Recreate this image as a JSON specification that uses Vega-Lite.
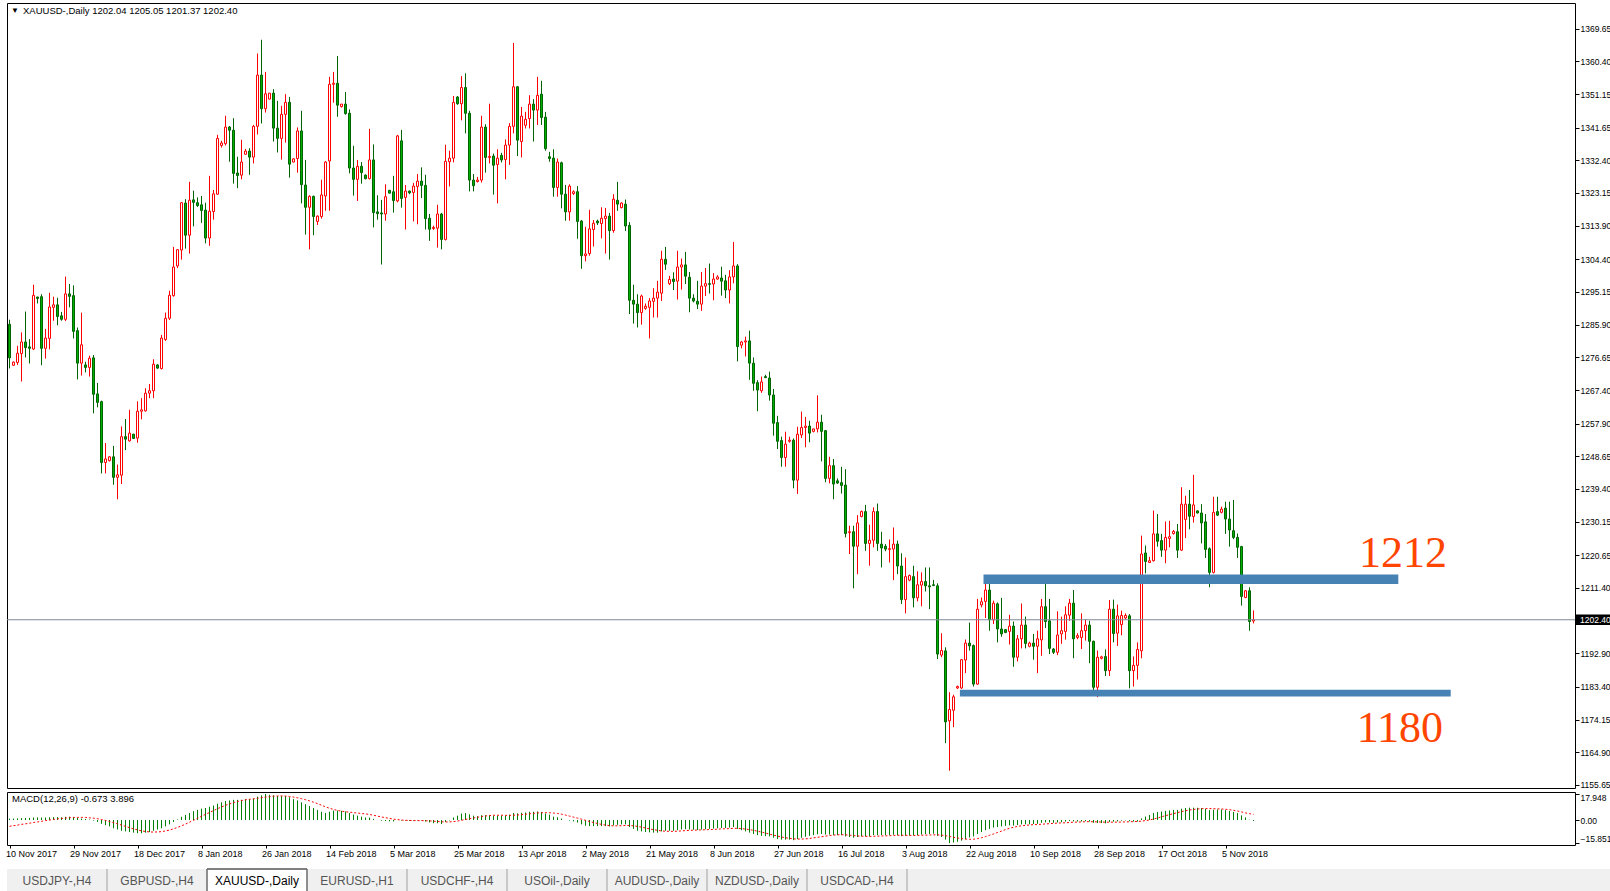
{
"$schema":"https://vega.github.io/schema/vega-lite/v6.json",
"background":"white",
"padding":{"left":5,"top":2,"right":0,"bottom":0},
"bounds":"full",
"spacing":9,
"config":{"view":{"stroke":"#000000","strokeWidth":1},"font":"Liberation Sans","text":{"font":"Liberation Sans"},"axis":{"labelFont":"Liberation Sans","labelOverlap":false},"scale":{"continuousPadding":0}},
"datasets":{
"ohlc":[
{"i":0,"o":1286.0,"h":1287.3,"l":1273.5,"c":1276.5},
{"i":1,"o":1274.4,"h":1275.5,"l":1274.2,"c":1275.3},
{"i":2,"o":1275.2,"h":1279.9,"l":1274.5,"c":1277.8},
{"i":3,"o":1277.7,"h":1283.7,"l":1269.8,"c":1281.0},
{"i":4,"o":1281.0,"h":1289.6,"l":1276.6,"c":1279.4},
{"i":5,"o":1279.6,"h":1281.8,"l":1274.9,"c":1279.2},
{"i":6,"o":1279.0,"h":1297.2,"l":1278.7,"c":1294.2},
{"i":7,"o":1293.7,"h":1293.8,"l":1291.9,"c":1293.3},
{"i":8,"o":1293.8,"h":1294.5,"l":1274.4,"c":1279.2},
{"i":9,"o":1279.2,"h":1284.7,"l":1276.3,"c":1282.1},
{"i":10,"o":1282.0,"h":1294.9,"l":1278.9,"c":1290.9},
{"i":11,"o":1290.8,"h":1293.8,"l":1287.0,"c":1291.5},
{"i":12,"o":1291.5,"h":1293.5,"l":1285.7,"c":1288.2},
{"i":13,"o":1288.4,"h":1289.5,"l":1287.0,"c":1287.4},
{"i":14,"o":1287.4,"h":1299.5,"l":1286.9,"c":1294.6},
{"i":15,"o":1294.6,"h":1297.4,"l":1290.8,"c":1293.9},
{"i":16,"o":1294.1,"h":1297.0,"l":1282.0,"c":1284.0},
{"i":17,"o":1284.2,"h":1285.1,"l":1270.4,"c":1275.0},
{"i":18,"o":1275.0,"h":1289.3,"l":1271.5,"c":1280.2},
{"i":19,"o":1274.5,"h":1275.4,"l":1272.4,"c":1273.8},
{"i":20,"o":1273.8,"h":1277.1,"l":1271.2,"c":1276.4},
{"i":21,"o":1276.5,"h":1277.3,"l":1260.8,"c":1266.2},
{"i":22,"o":1266.3,"h":1269.4,"l":1262.5,"c":1263.9},
{"i":23,"o":1264.1,"h":1264.4,"l":1243.8,"c":1246.9},
{"i":24,"o":1246.9,"h":1252.4,"l":1243.8,"c":1247.9},
{"i":25,"o":1247.4,"h":1248.7,"l":1247.2,"c":1248.5},
{"i":26,"o":1248.5,"h":1251.6,"l":1240.6,"c":1242.7},
{"i":27,"o":1242.7,"h":1246.3,"l":1236.5,"c":1243.4},
{"i":28,"o":1243.3,"h":1257.1,"l":1240.8,"c":1254.2},
{"i":29,"o":1254.2,"h":1259.2,"l":1250.4,"c":1253.5},
{"i":30,"o":1253.0,"h":1261.8,"l":1252.8,"c":1255.2},
{"i":31,"o":1254.9,"h":1255.0,"l":1253.6,"c":1253.7},
{"i":32,"o":1253.8,"h":1264.2,"l":1252.5,"c":1261.4},
{"i":33,"o":1261.4,"h":1265.1,"l":1259.1,"c":1261.8},
{"i":34,"o":1261.5,"h":1267.9,"l":1261.3,"c":1266.5},
{"i":35,"o":1266.5,"h":1269.1,"l":1265.1,"c":1267.2},
{"i":36,"o":1267.2,"h":1276.1,"l":1265.1,"c":1274.7},
{"i":37,"o":1274.5,"h":1274.7,"l":1273.4,"c":1273.6},
{"i":38,"o":1273.5,"h":1283.0,"l":1273.2,"c":1282.1},
{"i":39,"o":1281.7,"h":1289.3,"l":1281.3,"c":1287.7},
{"i":40,"o":1287.7,"h":1295.5,"l":1287.2,"c":1294.2},
{"i":41,"o":1294.1,"h":1307.9,"l":1293.8,"c":1302.2},
{"i":42,"o":1302.5,"h":1307.3,"l":1301.9,"c":1307.1},
{"i":43,"o":1307.0,"h":1320.6,"l":1304.3,"c":1320.4},
{"i":44,"o":1320.3,"h":1321.4,"l":1307.4,"c":1311.2},
{"i":45,"o":1311.2,"h":1326.3,"l":1306.0,"c":1321.1},
{"i":46,"o":1321.2,"h":1323.8,"l":1313.7,"c":1320.5},
{"i":47,"o":1320.4,"h":1321.9,"l":1319.2,"c":1319.6},
{"i":48,"o":1319.8,"h":1322.3,"l":1314.7,"c":1318.2},
{"i":49,"o":1318.3,"h":1320.4,"l":1308.9,"c":1310.4},
{"i":50,"o":1310.4,"h":1328.0,"l":1308.2,"c":1318.0},
{"i":51,"o":1317.9,"h":1324.0,"l":1315.6,"c":1322.9},
{"i":52,"o":1322.8,"h":1339.6,"l":1322.7,"c":1338.6},
{"i":53,"o":1336.6,"h":1337.9,"l":1336.0,"c":1337.3},
{"i":54,"o":1337.1,"h":1345.0,"l":1336.6,"c":1341.8},
{"i":55,"o":1341.8,"h":1342.1,"l":1332.0,"c":1340.9},
{"i":56,"o":1340.9,"h":1344.3,"l":1325.8,"c":1328.7},
{"i":57,"o":1328.8,"h":1333.4,"l":1324.5,"c":1328.1},
{"i":58,"o":1328.2,"h":1338.2,"l":1327.0,"c":1331.9},
{"i":59,"o":1334.1,"h":1335.6,"l":1334.1,"c":1335.0},
{"i":60,"o":1335.0,"h":1335.8,"l":1328.3,"c":1333.3},
{"i":61,"o":1333.3,"h":1342.4,"l":1331.5,"c":1342.0},
{"i":62,"o":1342.0,"h":1362.6,"l":1339.7,"c":1356.5},
{"i":63,"o":1356.5,"h":1366.5,"l":1342.8,"c":1347.0},
{"i":64,"o":1347.0,"h":1357.4,"l":1345.9,"c":1351.2},
{"i":65,"o":1349.7,"h":1351.4,"l":1349.7,"c":1351.4},
{"i":66,"o":1351.4,"h":1352.5,"l":1337.7,"c":1341.5},
{"i":67,"o":1341.5,"h":1349.2,"l":1334.6,"c":1338.6},
{"i":68,"o":1338.6,"h":1347.8,"l":1332.6,"c":1345.4},
{"i":69,"o":1345.4,"h":1351.1,"l":1337.4,"c":1348.8},
{"i":70,"o":1348.8,"h":1350.3,"l":1327.5,"c":1331.3},
{"i":71,"o":1331.9,"h":1333.0,"l":1331.8,"c":1332.8},
{"i":72,"o":1332.9,"h":1341.7,"l":1328.9,"c":1340.7},
{"i":73,"o":1340.7,"h":1346.4,"l":1320.2,"c":1325.5},
{"i":74,"o":1325.4,"h":1332.5,"l":1311.4,"c":1319.1},
{"i":75,"o":1319.1,"h":1322.5,"l":1307.2,"c":1322.2},
{"i":76,"o":1322.2,"h":1322.4,"l":1311.2,"c":1316.5},
{"i":77,"o":1315.1,"h":1316.8,"l":1314.1,"c":1316.6},
{"i":78,"o":1316.5,"h":1326.9,"l":1315.9,"c":1322.6},
{"i":79,"o":1322.3,"h":1332.2,"l":1318.1,"c":1331.9},
{"i":80,"o":1332.2,"h":1356.0,"l":1318.1,"c":1353.9},
{"i":81,"o":1353.9,"h":1357.4,"l":1348.7,"c":1354.2},
{"i":82,"o":1354.2,"h":1361.9,"l":1344.7,"c":1348.0},
{"i":83,"o":1347.6,"h":1348.3,"l":1347.3,"c":1348.3},
{"i":84,"o":1348.3,"h":1351.7,"l":1345.3,"c":1345.6},
{"i":85,"o":1345.7,"h":1346.8,"l":1328.7,"c":1330.2},
{"i":86,"o":1330.2,"h":1336.5,"l":1322.4,"c":1327.0},
{"i":87,"o":1327.0,"h":1332.5,"l":1320.9,"c":1330.7},
{"i":88,"o":1330.7,"h":1331.9,"l":1325.8,"c":1328.9},
{"i":89,"o":1328.2,"h":1328.4,"l":1327.0,"c":1327.2},
{"i":90,"o":1327.2,"h":1341.3,"l":1327.0,"c":1332.5},
{"i":91,"o":1332.5,"h":1336.9,"l":1313.4,"c":1317.6},
{"i":92,"o":1317.8,"h":1322.5,"l":1315.6,"c":1317.3},
{"i":93,"o":1317.5,"h":1321.2,"l":1302.9,"c":1317.2},
{"i":94,"o":1317.2,"h":1325.6,"l":1315.3,"c":1322.1},
{"i":95,"o":1323.9,"h":1324.0,"l":1323.1,"c":1323.1},
{"i":96,"o":1323.5,"h":1328.0,"l":1317.6,"c":1321.0},
{"i":97,"o":1320.9,"h":1339.6,"l":1320.5,"c":1339.3},
{"i":98,"o":1337.9,"h":1341.0,"l":1319.0,"c":1321.6},
{"i":99,"o":1321.9,"h":1325.4,"l":1312.8,"c":1323.7},
{"i":100,"o":1323.7,"h":1323.8,"l":1322.8,"c":1323.2},
{"i":101,"o":1323.3,"h":1326.0,"l":1315.1,"c":1325.1},
{"i":102,"o":1325.0,"h":1328.5,"l":1314.3,"c":1326.5},
{"i":103,"o":1326.5,"h":1330.4,"l":1321.7,"c":1325.3},
{"i":104,"o":1325.3,"h":1328.3,"l":1312.8,"c":1315.9},
{"i":105,"o":1316.0,"h":1317.2,"l":1309.6,"c":1312.9},
{"i":106,"o":1313.1,"h":1313.9,"l":1312.7,"c":1313.4},
{"i":107,"o":1313.2,"h":1319.8,"l":1307.7,"c":1317.2},
{"i":108,"o":1317.2,"h":1317.5,"l":1307.2,"c":1310.0},
{"i":109,"o":1310.0,"h":1336.8,"l":1309.7,"c":1332.1},
{"i":110,"o":1332.0,"h":1335.1,"l":1325.0,"c":1333.0},
{"i":111,"o":1333.0,"h":1350.6,"l":1331.8,"c":1348.8},
{"i":112,"o":1350.3,"h":1350.6,"l":1348.1,"c":1348.4},
{"i":113,"o":1348.4,"h":1356.2,"l":1343.7,"c":1353.0},
{"i":114,"o":1353.0,"h":1357.0,"l":1340.0,"c":1345.7},
{"i":115,"o":1345.7,"h":1346.4,"l":1323.6,"c":1326.8},
{"i":116,"o":1326.8,"h":1328.5,"l":1323.6,"c":1325.2},
{"i":117,"o":1326.4,"h":1327.7,"l":1326.1,"c":1326.8},
{"i":118,"o":1326.8,"h":1345.0,"l":1326.1,"c":1341.8},
{"i":119,"o":1341.8,"h":1342.6,"l":1328.9,"c":1333.2},
{"i":120,"o":1333.2,"h":1348.4,"l":1331.5,"c":1333.5},
{"i":121,"o":1333.6,"h":1334.3,"l":1322.7,"c":1331.0},
{"i":122,"o":1331.2,"h":1335.5,"l":1320.2,"c":1333.0},
{"i":123,"o":1333.8,"h":1334.5,"l":1331.8,"c":1332.5},
{"i":124,"o":1332.6,"h":1338.3,"l":1327.0,"c":1336.7},
{"i":125,"o":1336.7,"h":1342.9,"l":1331.1,"c":1342.0},
{"i":126,"o":1342.0,"h":1365.6,"l":1340.0,"c":1353.2},
{"i":127,"o":1353.2,"h":1353.4,"l":1333.6,"c":1338.1},
{"i":128,"o":1337.7,"h":1347.5,"l":1333.2,"c":1344.9},
{"i":129,"o":1342.3,"h":1346.1,"l":1341.4,"c":1344.0},
{"i":130,"o":1344.2,"h":1350.8,"l":1341.4,"c":1348.3},
{"i":131,"o":1348.3,"h":1349.7,"l":1337.7,"c":1346.6},
{"i":132,"o":1346.6,"h":1356.0,"l":1342.4,"c":1350.8},
{"i":133,"o":1351.1,"h":1354.9,"l":1342.4,"c":1344.5},
{"i":134,"o":1344.6,"h":1346.1,"l":1335.1,"c":1335.7},
{"i":135,"o":1333.4,"h":1334.8,"l":1332.0,"c":1332.9},
{"i":136,"o":1333.0,"h":1335.5,"l":1322.1,"c":1324.7},
{"i":137,"o":1324.7,"h":1332.9,"l":1322.1,"c":1331.9},
{"i":138,"o":1331.7,"h":1332.0,"l":1318.8,"c":1322.8},
{"i":139,"o":1322.8,"h":1325.4,"l":1315.3,"c":1317.8},
{"i":140,"o":1317.8,"h":1325.6,"l":1315.3,"c":1325.1},
{"i":141,"o":1323.0,"h":1323.9,"l":1322.6,"c":1323.5},
{"i":142,"o":1323.5,"h":1325.1,"l":1310.2,"c":1315.1},
{"i":143,"o":1315.2,"h":1315.5,"l":1301.7,"c":1305.4},
{"i":144,"o":1305.4,"h":1313.6,"l":1303.8,"c":1305.9},
{"i":145,"o":1306.0,"h":1318.4,"l":1305.4,"c":1313.0},
{"i":146,"o":1312.8,"h":1315.5,"l":1308.0,"c":1314.6},
{"i":147,"o":1315.2,"h":1315.6,"l":1314.1,"c":1314.7},
{"i":148,"o":1314.5,"h":1319.1,"l":1310.3,"c":1316.0},
{"i":149,"o":1315.9,"h":1318.9,"l":1306.0,"c":1316.6},
{"i":150,"o":1316.6,"h":1317.5,"l":1304.3,"c":1312.5},
{"i":151,"o":1312.5,"h":1322.8,"l":1311.9,"c":1321.4},
{"i":152,"o":1321.1,"h":1326.3,"l":1318.1,"c":1320.0},
{"i":153,"o":1319.0,"h":1320.5,"l":1318.8,"c":1320.3},
{"i":154,"o":1320.0,"h":1321.3,"l":1312.4,"c":1313.8},
{"i":155,"o":1314.0,"h":1314.9,"l":1288.9,"c":1292.8},
{"i":156,"o":1292.8,"h":1297.2,"l":1286.2,"c":1291.7},
{"i":157,"o":1291.7,"h":1294.5,"l":1285.1,"c":1289.3},
{"i":158,"o":1289.3,"h":1294.4,"l":1285.9,"c":1294.0},
{"i":159,"o":1290.5,"h":1291.9,"l":1290.1,"c":1291.1},
{"i":160,"o":1290.8,"h":1293.4,"l":1282.0,"c":1292.6},
{"i":161,"o":1292.5,"h":1296.2,"l":1287.9,"c":1293.4},
{"i":162,"o":1293.4,"h":1298.3,"l":1287.9,"c":1295.1},
{"i":163,"o":1294.8,"h":1306.8,"l":1292.6,"c":1304.4},
{"i":164,"o":1304.4,"h":1307.9,"l":1301.4,"c":1303.0},
{"i":165,"o":1297.5,"h":1299.7,"l":1297.1,"c":1298.7},
{"i":166,"o":1298.8,"h":1300.7,"l":1295.7,"c":1298.1},
{"i":167,"o":1298.2,"h":1306.8,"l":1293.0,"c":1302.2},
{"i":168,"o":1302.2,"h":1304.6,"l":1295.8,"c":1302.8},
{"i":169,"o":1302.8,"h":1306.5,"l":1297.4,"c":1299.6},
{"i":170,"o":1299.3,"h":1300.8,"l":1289.4,"c":1293.4},
{"i":171,"o":1293.4,"h":1294.5,"l":1292.2,"c":1292.6},
{"i":172,"o":1292.5,"h":1298.3,"l":1290.3,"c":1291.7},
{"i":173,"o":1291.7,"h":1300.8,"l":1289.8,"c":1296.8},
{"i":174,"o":1296.8,"h":1301.9,"l":1294.0,"c":1297.5},
{"i":175,"o":1297.5,"h":1303.2,"l":1294.7,"c":1297.3},
{"i":176,"o":1297.4,"h":1300.5,"l":1292.8,"c":1298.8},
{"i":177,"o":1298.8,"h":1299.9,"l":1298.6,"c":1299.4},
{"i":178,"o":1299.1,"h":1302.3,"l":1294.1,"c":1298.2},
{"i":179,"o":1298.3,"h":1300.0,"l":1293.4,"c":1295.7},
{"i":180,"o":1295.7,"h":1301.3,"l":1291.9,"c":1299.4},
{"i":181,"o":1299.4,"h":1309.3,"l":1297.6,"c":1302.5},
{"i":182,"o":1302.5,"h":1303.0,"l":1275.5,"c":1279.7},
{"i":183,"o":1280.1,"h":1281.3,"l":1279.2,"c":1281.0},
{"i":184,"o":1281.0,"h":1282.5,"l":1276.9,"c":1281.3},
{"i":185,"o":1281.3,"h":1284.2,"l":1270.3,"c":1275.0},
{"i":186,"o":1275.0,"h":1276.6,"l":1267.2,"c":1269.3},
{"i":187,"o":1269.5,"h":1270.2,"l":1261.4,"c":1267.4},
{"i":188,"o":1267.2,"h":1271.2,"l":1266.6,"c":1269.7},
{"i":189,"o":1271.2,"h":1271.7,"l":1270.9,"c":1270.9},
{"i":190,"o":1270.8,"h":1272.6,"l":1264.4,"c":1266.0},
{"i":191,"o":1266.0,"h":1267.7,"l":1254.5,"c":1258.0},
{"i":192,"o":1258.2,"h":1260.1,"l":1250.7,"c":1252.9},
{"i":193,"o":1253.1,"h":1254.2,"l":1245.7,"c":1248.3},
{"i":194,"o":1248.3,"h":1255.6,"l":1245.7,"c":1252.1},
{"i":195,"o":1252.9,"h":1254.2,"l":1252.5,"c":1253.2},
{"i":196,"o":1253.2,"h":1253.7,"l":1239.6,"c":1241.9},
{"i":197,"o":1241.9,"h":1257.0,"l":1238.0,"c":1254.9},
{"i":198,"o":1254.7,"h":1261.3,"l":1253.8,"c":1256.8},
{"i":199,"o":1256.8,"h":1259.8,"l":1251.2,"c":1257.2},
{"i":200,"o":1257.2,"h":1258.7,"l":1252.6,"c":1255.2},
{"i":201,"o":1255.7,"h":1256.4,"l":1255.4,"c":1256.4},
{"i":202,"o":1256.4,"h":1265.9,"l":1255.4,"c":1258.3},
{"i":203,"o":1258.3,"h":1260.4,"l":1247.2,"c":1255.7},
{"i":204,"o":1255.9,"h":1256.1,"l":1241.3,"c":1242.4},
{"i":205,"o":1242.4,"h":1248.5,"l":1241.0,"c":1246.0},
{"i":206,"o":1246.0,"h":1247.9,"l":1236.5,"c":1240.8},
{"i":207,"o":1241.7,"h":1242.4,"l":1240.8,"c":1241.1},
{"i":208,"o":1241.2,"h":1245.7,"l":1238.1,"c":1240.4},
{"i":209,"o":1240.5,"h":1245.0,"l":1225.7,"c":1226.8},
{"i":210,"o":1227.1,"h":1229.0,"l":1221.0,"c":1227.3},
{"i":211,"o":1227.3,"h":1229.0,"l":1211.3,"c":1223.2},
{"i":212,"o":1223.2,"h":1232.0,"l":1215.3,"c":1229.8},
{"i":213,"o":1231.6,"h":1233.3,"l":1231.4,"c":1233.0},
{"i":214,"o":1233.0,"h":1234.9,"l":1221.9,"c":1224.0},
{"i":215,"o":1224.0,"h":1229.3,"l":1217.7,"c":1224.9},
{"i":216,"o":1224.9,"h":1234.2,"l":1222.9,"c":1233.0},
{"i":217,"o":1233.0,"h":1235.3,"l":1221.9,"c":1224.0},
{"i":218,"o":1223.8,"h":1227.3,"l":1217.2,"c":1222.7},
{"i":219,"o":1223.2,"h":1223.8,"l":1221.8,"c":1222.4},
{"i":220,"o":1222.3,"h":1225.1,"l":1218.6,"c":1222.5},
{"i":221,"o":1222.4,"h":1228.5,"l":1213.6,"c":1223.8},
{"i":222,"o":1223.8,"h":1224.8,"l":1215.3,"c":1217.6},
{"i":223,"o":1217.6,"h":1221.2,"l":1206.9,"c":1208.1},
{"i":224,"o":1208.1,"h":1220.0,"l":1204.2,"c":1214.6},
{"i":225,"o":1213.6,"h":1215.2,"l":1213.3,"c":1214.9},
{"i":226,"o":1214.6,"h":1217.7,"l":1205.9,"c":1208.6},
{"i":227,"o":1208.6,"h":1216.1,"l":1207.6,"c":1212.3},
{"i":228,"o":1212.2,"h":1215.8,"l":1206.2,"c":1213.2},
{"i":229,"o":1213.2,"h":1217.2,"l":1210.4,"c":1212.0},
{"i":230,"o":1212.0,"h":1217.2,"l":1205.4,"c":1211.7},
{"i":231,"o":1212.3,"h":1213.7,"l":1211.9,"c":1212.1},
{"i":232,"o":1212.0,"h":1212.7,"l":1191.3,"c":1192.7},
{"i":233,"o":1192.4,"h":1198.6,"l":1191.8,"c":1193.7},
{"i":234,"o":1193.6,"h":1194.6,"l":1167.5,"c":1173.5},
{"i":235,"o":1173.8,"h":1181.9,"l":1159.7,"c":1177.0},
{"i":236,"o":1176.8,"h":1181.2,"l":1172.0,"c":1180.6},
{"i":237,"o":1183.1,"h":1183.8,"l":1182.8,"c":1183.5},
{"i":238,"o":1183.1,"h":1191.3,"l":1182.8,"c":1191.1},
{"i":239,"o":1191.0,"h":1196.8,"l":1187.3,"c":1195.8},
{"i":240,"o":1195.8,"h":1201.6,"l":1193.7,"c":1195.0},
{"i":241,"o":1195.1,"h":1195.4,"l":1183.5,"c":1184.2},
{"i":242,"o":1184.2,"h":1208.3,"l":1184.0,"c":1205.4},
{"i":243,"o":1206.6,"h":1208.7,"l":1205.9,"c":1207.5},
{"i":244,"o":1207.6,"h":1214.4,"l":1202.9,"c":1210.8},
{"i":245,"o":1210.8,"h":1214.4,"l":1199.3,"c":1202.4},
{"i":246,"o":1202.4,"h":1207.8,"l":1201.2,"c":1207.1},
{"i":247,"o":1206.9,"h":1207.3,"l":1196.0,"c":1199.8},
{"i":248,"o":1199.8,"h":1208.6,"l":1197.6,"c":1198.4},
{"i":249,"o":1199.6,"h":1199.8,"l":1198.6,"c":1198.8},
{"i":250,"o":1199.1,"h":1203.8,"l":1195.4,"c":1200.6},
{"i":251,"o":1200.6,"h":1201.9,"l":1189.1,"c":1191.8},
{"i":252,"o":1191.8,"h":1198.1,"l":1190.6,"c":1197.0},
{"i":253,"o":1197.0,"h":1207.0,"l":1194.3,"c":1200.9},
{"i":254,"o":1200.9,"h":1203.3,"l":1194.3,"c":1195.7},
{"i":255,"o":1194.9,"h":1196.2,"l":1194.6,"c":1195.8},
{"i":256,"o":1195.8,"h":1198.4,"l":1191.1,"c":1194.9},
{"i":257,"o":1194.9,"h":1199.3,"l":1187.3,"c":1197.0},
{"i":258,"o":1196.7,"h":1208.3,"l":1192.2,"c":1206.1},
{"i":259,"o":1206.1,"h":1212.5,"l":1200.1,"c":1201.9},
{"i":260,"o":1202.1,"h":1208.3,"l":1192.7,"c":1194.3},
{"i":261,"o":1194.1,"h":1194.4,"l":1192.7,"c":1193.2},
{"i":262,"o":1193.2,"h":1204.8,"l":1192.4,"c":1198.1},
{"i":263,"o":1198.4,"h":1203.3,"l":1195.6,"c":1199.3},
{"i":264,"o":1199.1,"h":1206.2,"l":1196.8,"c":1203.8},
{"i":265,"o":1203.7,"h":1208.3,"l":1202.1,"c":1207.1},
{"i":266,"o":1207.1,"h":1210.8,"l":1191.5,"c":1197.0},
{"i":267,"o":1197.4,"h":1198.6,"l":1196.9,"c":1197.9},
{"i":268,"o":1197.4,"h":1204.2,"l":1194.1,"c":1199.3},
{"i":269,"o":1199.3,"h":1202.5,"l":1196.5,"c":1200.9},
{"i":270,"o":1200.9,"h":1202.1,"l":1190.1,"c":1196.3},
{"i":271,"o":1196.3,"h":1196.5,"l":1181.6,"c":1183.3},
{"i":272,"o":1183.3,"h":1193.7,"l":1180.5,"c":1191.8},
{"i":273,"o":1191.5,"h":1192.2,"l":1191.2,"c":1191.9},
{"i":274,"o":1192.0,"h":1194.0,"l":1186.5,"c":1188.0},
{"i":275,"o":1188.0,"h":1208.0,"l":1186.5,"c":1205.4},
{"i":276,"o":1205.4,"h":1208.1,"l":1196.0,"c":1198.5},
{"i":277,"o":1198.6,"h":1206.7,"l":1195.0,"c":1203.5},
{"i":278,"o":1201.0,"h":1205.0,"l":1198.0,"c":1203.6},
{"i":279,"o":1202.9,"h":1204.2,"l":1202.5,"c":1203.6},
{"i":280,"o":1203.5,"h":1204.0,"l":1183.0,"c":1188.0},
{"i":281,"o":1188.0,"h":1192.0,"l":1183.5,"c":1189.5},
{"i":282,"o":1189.5,"h":1196.0,"l":1185.5,"c":1194.0},
{"i":283,"o":1193.6,"h":1226.2,"l":1191.5,"c":1221.0},
{"i":284,"o":1221.3,"h":1223.4,"l":1215.5,"c":1218.9},
{"i":285,"o":1218.6,"h":1220.2,"l":1218.5,"c":1219.1},
{"i":286,"o":1219.1,"h":1233.3,"l":1218.9,"c":1226.7},
{"i":287,"o":1226.7,"h":1232.3,"l":1223.1,"c":1224.6},
{"i":288,"o":1224.8,"h":1226.7,"l":1220.2,"c":1222.1},
{"i":289,"o":1222.1,"h":1230.2,"l":1218.4,"c":1225.7},
{"i":290,"o":1225.4,"h":1230.4,"l":1222.9,"c":1225.9},
{"i":291,"o":1226.8,"h":1227.8,"l":1226.5,"c":1227.4},
{"i":292,"o":1227.3,"h":1229.5,"l":1219.9,"c":1222.1},
{"i":293,"o":1222.1,"h":1239.9,"l":1221.9,"c":1235.1},
{"i":294,"o":1230.8,"h":1237.5,"l":1225.5,"c":1235.1},
{"i":295,"o":1235.1,"h":1239.1,"l":1228.0,"c":1231.7},
{"i":296,"o":1231.6,"h":1243.4,"l":1229.9,"c":1234.9},
{"i":297,"o":1233.2,"h":1233.3,"l":1232.5,"c":1232.6},
{"i":298,"o":1232.6,"h":1235.1,"l":1224.0,"c":1229.8},
{"i":299,"o":1230.1,"h":1232.3,"l":1219.9,"c":1222.3},
{"i":300,"o":1222.5,"h":1222.9,"l":1211.6,"c":1215.8},
{"i":301,"o":1215.8,"h":1237.2,"l":1215.5,"c":1232.8},
{"i":302,"o":1233.0,"h":1237.2,"l":1231.8,"c":1232.0},
{"i":303,"o":1232.8,"h":1234.4,"l":1232.5,"c":1233.7},
{"i":304,"o":1234.0,"h":1235.8,"l":1226.7,"c":1230.9},
{"i":305,"o":1230.9,"h":1235.8,"l":1223.1,"c":1227.8},
{"i":306,"o":1227.6,"h":1236.3,"l":1225.2,"c":1225.7},
{"i":307,"o":1225.7,"h":1226.8,"l":1219.9,"c":1222.9},
{"i":308,"o":1223.1,"h":1223.3,"l":1206.4,"c":1209.0},
{"i":309,"o":1208.7,"h":1210.8,"l":1208.5,"c":1210.6},
{"i":310,"o":1210.6,"h":1211.6,"l":1199.3,"c":1201.9},
{"i":311,"o":1202.04,"h":1205.05,"l":1201.37,"c":1202.40}
],
"macd":[
{"i":0,"m":0.9,"s":-4.3},{"i":1,"m":1.0,"s":-3.9},{"i":2,"m":1.1,"s":-3.5},{"i":3,"m":1.3,"s":-3.0},{"i":4,"m":1.4,"s":-2.6},{"i":5,"m":1.5,"s":-2.2},{"i":6,"m":1.7,"s":-1.7},{"i":7,"m":1.8,"s":-1.3},{"i":8,"m":1.7,"s":-0.9},{"i":9,"m":1.7,"s":-0.4},
{"i":10,"m":1.9,"s":0.0},{"i":11,"m":2.0,"s":0.4},{"i":12,"m":2.0,"s":0.8},{"i":13,"m":1.9,"s":1.1},{"i":14,"m":2.2,"s":1.4},{"i":15,"m":2.3,"s":1.6},{"i":16,"m":2.0,"s":1.8},{"i":17,"m":1.4,"s":1.8},{"i":18,"m":1.0,"s":1.8},{"i":19,"m":0.7,"s":1.8},
{"i":20,"m":0.3,"s":1.53},{"i":21,"m":-0.4,"s":1.27},{"i":22,"m":-1.3,"s":0.91},{"i":23,"m":-2.6,"s":0.38},{"i":24,"m":-3.5,"s":-0.27},{"i":25,"m":-4.4,"s":-0.98},{"i":26,"m":-5.7,"s":-1.77},{"i":27,"m":-6.5,"s":-2.6},{"i":28,"m":-7.4,"s":-3.5},{"i":29,"m":-7.8,"s":-4.4},
{"i":30,"m":-8.3,"s":-5.28},{"i":31,"m":-8.7,"s":-6.1},{"i":32,"m":-9.1,"s":-6.82},{"i":33,"m":-9.1,"s":-7.44},{"i":34,"m":-8.7,"s":-7.92},{"i":35,"m":-8.3,"s":-8.21},{"i":36,"m":-7.4,"s":-8.31},{"i":37,"m":-6.5,"s":-8.21},{"i":38,"m":-5.7,"s":-7.98},{"i":39,"m":-4.4,"s":-7.54},
{"i":40,"m":-3.0,"s":-6.9},{"i":41,"m":-1.3,"s":-6.1},{"i":42,"m":0.4,"s":-5.1},{"i":43,"m":2.2,"s":-4.0},{"i":44,"m":3.5,"s":-2.8},{"i":45,"m":4.8,"s":-1.5},{"i":46,"m":6.1,"s":-0.2},{"i":47,"m":7.0,"s":1.2},{"i":48,"m":7.8,"s":2.6},{"i":49,"m":8.3,"s":3.9},
{"i":50,"m":9.1,"s":5.2},{"i":51,"m":10.0,"s":6.5},{"i":52,"m":11.3,"s":7.8},{"i":53,"m":12.2,"s":9.0},{"i":54,"m":13.1,"s":10.1},{"i":55,"m":13.5,"s":11.1},{"i":56,"m":13.9,"s":12.0},{"i":57,"m":13.9,"s":12.8},{"i":58,"m":13.9,"s":13.4},{"i":59,"m":14.4,"s":13.9},
{"i":60,"m":14.4,"s":14.3},{"i":61,"m":14.8,"s":14.6},{"i":62,"m":16.1,"s":15.0},{"i":63,"m":17.0,"s":15.4},{"i":64,"m":17.948,"s":15.8},{"i":65,"m":17.4,"s":16.1},{"i":66,"m":17.0,"s":16.4},{"i":67,"m":16.5,"s":16.6},{"i":68,"m":16.5,"s":16.6},{"i":69,"m":16.5,"s":16.5},
{"i":70,"m":15.7,"s":16.2},{"i":71,"m":14.4,"s":15.8},{"i":72,"m":13.5,"s":15.3},{"i":73,"m":12.2,"s":14.7},{"i":74,"m":10.9,"s":14.0},{"i":75,"m":9.6,"s":13.2},{"i":76,"m":8.3,"s":12.3},{"i":77,"m":7.0,"s":11.3},{"i":78,"m":5.7,"s":10.2},{"i":79,"m":4.8,"s":9.1},
{"i":80,"m":5.7,"s":8.1},{"i":81,"m":6.5,"s":7.3},{"i":82,"m":6.5,"s":6.6},{"i":83,"m":6.3,"s":6.1},{"i":84,"m":5.9,"s":5.7},{"i":85,"m":4.8,"s":5.4},{"i":86,"m":3.7,"s":5.1},{"i":87,"m":3.0,"s":4.8},{"i":88,"m":2.3,"s":4.5},{"i":89,"m":1.7,"s":4.2},
{"i":90,"m":1.7,"s":3.8},{"i":91,"m":0.7,"s":3.3},{"i":92,"m":0.0,"s":2.7},{"i":93,"m":-0.5,"s":2.1},{"i":94,"m":-0.7,"s":1.6},{"i":95,"m":-0.9,"s":1.1},{"i":96,"m":-1.0,"s":0.6},{"i":97,"m":0.0,"s":0.3},{"i":98,"m":-0.3,"s":0.0},{"i":99,"m":-0.4,"s":-0.2},
{"i":100,"m":-0.5,"s":-0.3},{"i":101,"m":-0.4,"s":-0.4},{"i":102,"m":-0.3,"s":-0.4},{"i":103,"m":-0.3,"s":-0.4},{"i":104,"m":-1.0,"s":-0.5},{"i":105,"m":-1.7,"s":-0.6},{"i":106,"m":-2.2,"s":-0.8},{"i":107,"m":-2.2,"s":-1.0},{"i":108,"m":-2.8,"s":-1.2},{"i":109,"m":-1.3,"s":-1.3},
{"i":110,"m":-0.3,"s":-1.3},{"i":111,"m":1.7,"s":-1.1},{"i":112,"m":3.0,"s":-0.7},{"i":113,"m":4.4,"s":-0.2},{"i":114,"m":4.8,"s":0.4},{"i":115,"m":3.9,"s":0.9},{"i":116,"m":3.0,"s":1.4},{"i":117,"m":2.6,"s":1.9},{"i":118,"m":3.3,"s":2.4},{"i":119,"m":3.3,"s":2.8},
{"i":120,"m":3.3,"s":3.1},{"i":121,"m":3.0,"s":3.3},{"i":122,"m":3.0,"s":3.3},{"i":123,"m":3.0,"s":3.3},{"i":124,"m":3.1,"s":3.2},{"i":125,"m":3.7,"s":3.2},{"i":126,"m":4.8,"s":3.3},{"i":127,"m":4.6,"s":3.5},{"i":128,"m":5.0,"s":3.7},{"i":129,"m":5.2,"s":4.0},
{"i":130,"m":5.7,"s":4.3},{"i":131,"m":5.7,"s":4.6},{"i":132,"m":5.9,"s":4.9},{"i":133,"m":5.5,"s":5.0},{"i":134,"m":4.5,"s":5.1},{"i":135,"m":3.7,"s":5.0},{"i":136,"m":2.3,"s":4.8},{"i":137,"m":1.9,"s":4.5},{"i":138,"m":1.0,"s":4.0},{"i":139,"m":0.0,"s":3.4},
{"i":140,"m":-0.4,"s":2.7},{"i":141,"m":-0.9,"s":2.0},{"i":142,"m":-1.7,"s":1.3},{"i":143,"m":-3.0,"s":0.6},{"i":144,"m":-3.9,"s":-0.2},{"i":145,"m":-4.2,"s":-1.0},{"i":146,"m":-4.2,"s":-1.7},{"i":147,"m":-4.2,"s":-2.4},{"i":148,"m":-4.2,"s":-3.0},{"i":149,"m":-4.2,"s":-3.5},
{"i":150,"m":-4.4,"s":-3.9},{"i":151,"m":-3.7,"s":-4.0},{"i":152,"m":-3.3,"s":-4.0},{"i":153,"m":-3.0,"s":-3.9},{"i":154,"m":-3.0,"s":-3.8},{"i":155,"m":-4.8,"s":-3.8},{"i":156,"m":-6.1,"s":-4.0},{"i":157,"m":-7.4,"s":-4.4},{"i":158,"m":-7.8,"s":-4.9},{"i":159,"m":-8.3,"s":-5.5},
{"i":160,"m":-8.5,"s":-6.1},{"i":161,"m":-8.7,"s":-6.6},{"i":162,"m":-8.7,"s":-7.1},{"i":163,"m":-7.8,"s":-7.5},{"i":164,"m":-7.4,"s":-7.7},{"i":165,"m":-7.4,"s":-7.8},{"i":166,"m":-7.4,"s":-7.8},{"i":167,"m":-7.0,"s":-7.7},{"i":168,"m":-6.5,"s":-7.5},{"i":169,"m":-6.3,"s":-7.3},
{"i":170,"m":-6.5,"s":-7.1},{"i":171,"m":-6.7,"s":-7.0},{"i":172,"m":-6.9,"s":-6.9},{"i":173,"m":-6.6,"s":-6.8},{"i":174,"m":-6.4,"s":-6.7},{"i":175,"m":-6.1,"s":-6.6},{"i":176,"m":-5.9,"s":-6.5},{"i":177,"m":-5.7,"s":-6.3},{"i":178,"m":-5.5,"s":-6.1},{"i":179,"m":-5.5,"s":-6.0},
{"i":180,"m":-5.2,"s":-5.9},{"i":181,"m":-4.8,"s":-5.7},{"i":182,"m":-6.1,"s":-5.7},{"i":183,"m":-7.0,"s":-5.9},{"i":184,"m":-7.8,"s":-6.2},{"i":185,"m":-8.7,"s":-6.6},{"i":186,"m":-9.6,"s":-7.1},{"i":187,"m":-10.4,"s":-7.7},{"i":188,"m":-10.9,"s":-8.3},{"i":189,"m":-11.1,"s":-9.0},
{"i":190,"m":-11.3,"s":-9.7},{"i":191,"m":-12.2,"s":-10.4},{"i":192,"m":-13.1,"s":-11.1},{"i":193,"m":-13.5,"s":-11.7},{"i":194,"m":-13.5,"s":-12.2},{"i":195,"m":-13.5,"s":-12.6},{"i":196,"m":-13.9,"s":-13.0},{"i":197,"m":-13.1,"s":-13.1},{"i":198,"m":-12.2,"s":-13.1},{"i":199,"m":-11.5,"s":-13.0},
{"i":200,"m":-10.9,"s":-12.7},{"i":201,"m":-10.4,"s":-12.3},{"i":202,"m":-9.8,"s":-11.9},{"i":203,"m":-9.6,"s":-11.5},{"i":204,"m":-10.0,"s":-11.1},{"i":205,"m":-10.0,"s":-10.7},{"i":206,"m":-10.3,"s":-10.4},{"i":207,"m":-10.4,"s":-10.2},{"i":208,"m":-10.4,"s":-10.1},{"i":209,"m":-11.3,"s":-10.2},
{"i":210,"m":-11.7,"s":-10.4},{"i":211,"m":-12.2,"s":-10.7},{"i":212,"m":-11.7,"s":-11.0},{"i":213,"m":-11.3,"s":-11.1},{"i":214,"m":-11.3,"s":-11.2},{"i":215,"m":-11.1,"s":-11.3},{"i":216,"m":-10.4,"s":-11.2},{"i":217,"m":-10.4,"s":-11.1},{"i":218,"m":-10.4,"s":-11.0},{"i":219,"m":-10.4,"s":-10.9},
{"i":220,"m":-10.3,"s":-10.8},{"i":221,"m":-10.1,"s":-10.6},{"i":222,"m":-10.4,"s":-10.5},{"i":223,"m":-11.1,"s":-10.5},{"i":224,"m":-10.9,"s":-10.5},{"i":225,"m":-10.6,"s":-10.6},{"i":226,"m":-10.6,"s":-10.6},{"i":227,"m":-10.4,"s":-10.6},{"i":228,"m":-10.0,"s":-10.5},{"i":229,"m":-9.7,"s":-10.4},
{"i":230,"m":-9.6,"s":-10.3},{"i":231,"m":-9.4,"s":-10.2},{"i":232,"m":-10.9,"s":-10.2},{"i":233,"m":-11.7,"s":-10.4},{"i":234,"m":-13.5,"s":-10.8},{"i":235,"m":-15.851,"s":-11.3},{"i":236,"m":-15.5,"s":-11.9},{"i":237,"m":-15.0,"s":-12.4},{"i":238,"m":-14.2,"s":-12.8},{"i":239,"m":-13.2,"s":-13.1},
{"i":240,"m":-12.0,"s":-13.3},{"i":241,"m":-11.3,"s":-13.2},{"i":242,"m":-9.6,"s":-12.8},{"i":243,"m":-8.3,"s":-12.2},{"i":244,"m":-7.0,"s":-11.4},{"i":245,"m":-6.1,"s":-10.5},{"i":246,"m":-5.2,"s":-9.6},{"i":247,"m":-4.8,"s":-8.6},{"i":248,"m":-4.4,"s":-7.6},{"i":249,"m":-4.0,"s":-6.6},
{"i":250,"m":-3.7,"s":-5.7},{"i":251,"m":-3.8,"s":-5.0},{"i":252,"m":-3.5,"s":-4.4},{"i":253,"m":-3.0,"s":-4.0},{"i":254,"m":-3.0,"s":-3.7},{"i":255,"m":-2.9,"s":-3.4},{"i":256,"m":-2.8,"s":-3.2},{"i":257,"m":-2.6,"s":-3.1},{"i":258,"m":-1.9,"s":-2.9},{"i":259,"m":-1.6,"s":-2.7},
{"i":260,"m":-1.7,"s":-2.5},{"i":261,"m":-1.9,"s":-2.3},{"i":262,"m":-1.7,"s":-2.1},{"i":263,"m":-1.5,"s":-2.0},{"i":264,"m":-1.1,"s":-1.9},{"i":265,"m":-0.7,"s":-1.7},{"i":266,"m":-0.9,"s":-1.5},{"i":267,"m":-1.0,"s":-1.4},{"i":268,"m":-1.0,"s":-1.3},{"i":269,"m":-0.8,"s":-1.2},
{"i":270,"m":-1.0,"s":-1.1},{"i":271,"m":-1.9,"s":-1.2},{"i":272,"m":-2.1,"s":-1.3},{"i":273,"m":-2.1,"s":-1.4},{"i":274,"m":-2.3,"s":-1.5},{"i":275,"m":-1.3,"s":-1.5},{"i":276,"m":-1.1,"s":-1.5},{"i":277,"m":-0.9,"s":-1.4},{"i":278,"m":-0.5,"s":-1.4},{"i":279,"m":-0.3,"s":-1.3},
{"i":280,"m":-0.8,"s":-1.2},{"i":281,"m":-1.0,"s":-1.1},{"i":282,"m":-1.0,"s":-1.0},{"i":283,"m":1.1,"s":-0.8},{"i":284,"m":2.4,"s":-0.4},{"i":285,"m":3.5,"s":0.0},{"i":286,"m":4.8,"s":0.7},{"i":287,"m":5.5,"s":1.4},{"i":288,"m":5.8,"s":2.2},{"i":289,"m":6.3,"s":3.0},
{"i":290,"m":6.6,"s":3.7},{"i":291,"m":7.0,"s":4.4},{"i":292,"m":7.0,"s":5.1},{"i":293,"m":7.8,"s":5.8},{"i":294,"m":8.3,"s":6.4},{"i":295,"m":8.5,"s":6.9},{"i":296,"m":8.5,"s":7.3},{"i":297,"m":8.4,"s":7.6},{"i":298,"m":8.2,"s":7.8},{"i":299,"m":7.6,"s":7.9},
{"i":300,"m":6.8,"s":7.9},{"i":301,"m":7.1,"s":7.8},{"i":302,"m":7.3,"s":7.7},{"i":303,"m":7.2,"s":7.6},{"i":304,"m":6.8,"s":7.4},{"i":305,"m":6.2,"s":7.1},{"i":306,"m":5.6,"s":6.7},{"i":307,"m":4.8,"s":6.2},{"i":308,"m":3.2,"s":5.6},{"i":309,"m":1.8,"s":4.9},
{"i":310,"m":0.2,"s":4.4},{"i":311,"m":-0.673,"s":3.896}
],
"zones":[
{"x1":243.5,"x2":347.2,"p1":1212.5,"p2":1215.2},
{"x1":237.6,"x2":360.3,"p1":1180.7,"p2":1182.6}
],
"levels":[
{"t":"1212","i":348.4,"p":1220.9},
{"t":"1180","i":347.6,"p":1171.6}
],
"tabs":[
{"tab":"USDJPY-,H4"},{"tab":"GBPUSD-,H4"},{"tab":"XAUUSD-,Daily"},{"tab":"EURUSD-,H1"},{"tab":"USDCHF-,H4"},{"tab":"USOil-,Daily"},{"tab":"AUDUSD-,Daily"},{"tab":"NZDUSD-,Daily"},{"tab":"USDCAD-,H4"}
]
},
"vconcat":[
{"bounds":"flush","spacing":4,"vconcat":[
{"width":1568,"height":785,
"layer":[
{"data":{"name":"ohlc"},"mark":{"type":"rule","strokeWidth":1},
"encoding":{
"x":{"field":"i","type":"quantitative","scale":{"domain":[-0.625,391.375],"nice":false,"zero":false,"padding":0},"axis":null},
"y":{"field":"l","type":"quantitative","scale":{"domain":[1154.8,1376.9],"nice":false,"zero":false,"padding":0},
"axis":{"orient":"right","title":null,"values":[1369.65,1360.40,1351.15,1341.65,1332.40,1323.15,1313.90,1304.40,1295.15,1285.90,1276.65,1267.40,1257.90,1248.65,1239.40,1230.15,1220.65,1211.40,1192.90,1183.40,1174.15,1164.90,1155.65],"tickCount":100,"format":".2f","domain":false,"grid":false,"tickSize":4,"tickColor":"#000000","labelPadding":1,"labelFontSize":8.5,"labelColor":"#000000","labelFont":"Liberation Sans","labelOverlap":false}},
"y2":{"field":"h"},
"color":{"condition":{"test":"datum.c >= datum.o","value":"#ff0000"},"value":"#006400"}}},
{"data":{"name":"ohlc"},"mark":{"type":"bar","width":2,"strokeWidth":1},
"encoding":{
"x":{"field":"i","type":"quantitative"},
"y":{"field":"o","type":"quantitative"},
"y2":{"field":"c"},
"fill":{"condition":{"test":"datum.c >= datum.o","value":"#ffffff"},"value":"#00b000"},
"stroke":{"condition":{"test":"datum.c >= datum.o","value":"#ff0000"},"value":"#006400"}}},
{"data":{"values":[{"p":1202.4}]},"mark":{"type":"rule","color":"#808a96","strokeWidth":1},
"encoding":{"y":{"field":"p","type":"quantitative"}}},
{"data":{"name":"zones"},"mark":{"type":"rect","color":"#4682b4"},
"encoding":{"x":{"field":"x1","type":"quantitative"},"x2":{"field":"x2"},"y":{"field":"p1","type":"quantitative"},"y2":{"field":"p2"}}},
{"data":{"name":"levels"},"mark":{"type":"text","font":"Liberation Serif","fontSize":44,"color":"#ff4500","align":"center","baseline":"middle"},
"encoding":{"x":{"field":"i","type":"quantitative"},"y":{"field":"p","type":"quantitative"},"text":{"field":"t"}}},
{"data":{"values":[{"t":"▼"}]},"mark":{"type":"text","align":"left","baseline":"middle","fontSize":8,"color":"#000000","dx":4,"dy":8},
"encoding":{"x":{"datum":-0.625},"y":{"datum":1376.9},"text":{"field":"t"}}},
{"data":{"values":[{"t":"XAUUSD-,Daily  1202.04 1205.05 1201.37 1202.40"}]},"mark":{"type":"text","align":"left","baseline":"middle","fontSize":9.5,"font":"Liberation Sans","color":"#000000","dx":16,"dy":8},
"encoding":{"x":{"datum":-0.625},"y":{"datum":1376.9},"text":{"field":"t"}}},
{"data":{"values":[{"p":1202.4}]},"mark":{"type":"rect","color":"#000000"},
"encoding":{"x":{"datum":391.375},"x2":{"datum":400.625},"y":{"datum":1203.9},"y2":{"datum":1200.9}}},
{"data":{"values":[{"p":1202.4}]},"mark":{"type":"text","align":"left","baseline":"middle","fontSize":8.5,"color":"#ffffff","dx":5},
"encoding":{"x":{"datum":391.375},"y":{"field":"p","type":"quantitative"},"text":{"field":"p","type":"quantitative","format":".2f"}}}
]},
{"width":1568,"height":53,
"layer":[
{"data":{"name":"macd"},"mark":{"type":"rule","color":"#008000","strokeWidth":1},
"encoding":{
"x":{"field":"i","type":"quantitative","scale":{"domain":[-0.625,391.375],"nice":false,"zero":false,"padding":0},
"axis":{"orient":"bottom","title":null,"values":[0,16,32,48,64,80,96,112,128,144,160,176,192,208,224,240,256,272,288,304],"tickCount":100,
"labelExpr":"['10 Nov 2017','29 Nov 2017','18 Dec 2017','8 Jan 2018','26 Jan 2018','14 Feb 2018','5 Mar 2018','25 Mar 2018','13 Apr 2018','2 May 2018','21 May 2018','8 Jun 2018','27 Jun 2018','16 Jul 2018','3 Aug 2018','22 Aug 2018','10 Sep 2018','28 Sep 2018','17 Oct 2018','5 Nov 2018'][round(datum.value/16)]",
"domain":false,"grid":false,"tickSize":3,"tickColor":"#000000","labelAlign":"left","labelPadding":1,"labelFontSize":9,"labelColor":"#000000","labelFont":"Liberation Sans","labelOffset":-4,"labelOverlap":false}},
"y":{"field":"m","type":"quantitative","scale":{"domain":[-17.2,19.3],"nice":false,"zero":false,"padding":0},
"axis":{"orient":"right","title":null,"values":[17.948,0,-15.851],"tickCount":100,"labelExpr":"datum.value == 0 ? '0.00' : format(datum.value, '.3f')","domain":false,"grid":false,"tickSize":4,"tickColor":"#000000","labelPadding":1,"labelFontSize":8.5,"labelColor":"#000000","labelFlush":3,"labelOverlap":false}},
"y2":{"datum":0}}},
{"data":{"name":"macd"},"mark":{"type":"line","color":"#ff0000","strokeWidth":1,"strokeDash":[2,2]},
"encoding":{"x":{"field":"i","type":"quantitative"},"y":{"field":"s","type":"quantitative"}}},
{"data":{"values":[{"t":"MACD(12,26,9) -0.673 3.896"}]},"mark":{"type":"text","align":"left","baseline":"middle","fontSize":9.5,"color":"#000000","dx":5,"dy":7},
"encoding":{"x":{"datum":-0.625},"y":{"datum":19.3},"text":{"field":"t"}}}
]}
]},
{"width":1605,"height":23,
"view":{"fill":"#f0f0f0","stroke":null},
"data":{"name":"tabs"},
"layer":[
{"transform":[{"filter":"datum.tab == 'XAUUSD-,Daily'"}],"mark":{"type":"rect","fill":"#ffffff","stroke":"#000000","strokeWidth":1},
"encoding":{"x":{"field":"tab","type":"nominal","sort":null,"scale":{"domain":["USDJPY-,H4","GBPUSD-,H4","XAUUSD-,Daily","EURUSD-,H1","USDCHF-,H4","USOil-,Daily","AUDUSD-,Daily","NZDUSD-,Daily","USDCAD-,H4"],"range":[0,900],"paddingInner":0,"paddingOuter":0},"axis":null}}},
{"mark":{"type":"rule","color":"#a0a0a0","strokeWidth":1},
"encoding":{"x":{"field":"tab","type":"nominal","bandPosition":1}}},
{"mark":{"type":"text","fontSize":12,"font":"Liberation Sans","baseline":"middle","align":"center"},
"encoding":{"x":{"field":"tab","type":"nominal"},"text":{"field":"tab"},
"color":{"condition":{"test":"datum.tab == 'XAUUSD-,Daily'","value":"#000000"},"value":"#555555"}}}
]}
]
}
